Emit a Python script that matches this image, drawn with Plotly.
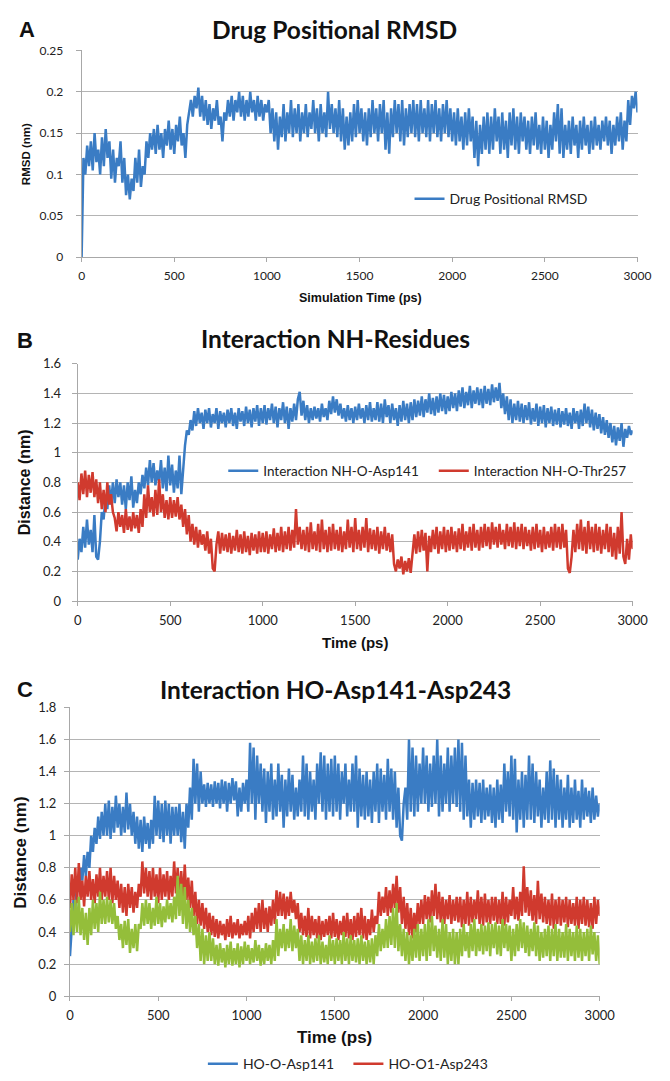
import plotly.graph_objects as go

# sample times (ps), one value every 10 ps
time_ps = list(range(0, 3001, 10))

# Panel A: drug positional RMSD (nm)
drug_rmsd = [
    0.0, 0.12, 0.10, 0.135, 0.11, 0.14, 0.105, 0.15, 0.115, 0.13, 0.10, 0.145, 0.11, 0.155, 0.12, 0.14, 0.095, 0.13, 0.09, 0.12,
    0.11, 0.14, 0.09, 0.12, 0.075, 0.10, 0.07, 0.095, 0.08, 0.12, 0.09, 0.13, 0.085, 0.11, 0.10, 0.14, 0.12, 0.15, 0.13, 0.155,
    0.125, 0.16, 0.13, 0.15, 0.12, 0.155, 0.135, 0.165, 0.13, 0.155, 0.125, 0.16, 0.14, 0.17, 0.135, 0.15, 0.12, 0.16, 0.175, 0.19,
    0.17, 0.195, 0.18, 0.205, 0.17, 0.195, 0.165, 0.19, 0.16, 0.185, 0.155, 0.18, 0.165, 0.19, 0.16, 0.17, 0.14, 0.175, 0.165, 0.19,
    0.17, 0.195, 0.165, 0.19, 0.175, 0.20, 0.17, 0.195, 0.165, 0.19, 0.17, 0.20, 0.175, 0.19, 0.165, 0.195, 0.17, 0.19, 0.165, 0.185,
    0.175, 0.19, 0.15, 0.18, 0.14, 0.175, 0.13, 0.17, 0.145, 0.185, 0.14, 0.175, 0.15, 0.19, 0.145, 0.18, 0.15, 0.185, 0.14, 0.175,
    0.15, 0.185, 0.145, 0.175, 0.155, 0.19, 0.15, 0.18, 0.14, 0.185, 0.15, 0.175, 0.145, 0.20, 0.155, 0.185, 0.15, 0.18, 0.145, 0.19,
    0.14, 0.18, 0.13, 0.17, 0.135, 0.175, 0.14, 0.185, 0.145, 0.19, 0.15, 0.18, 0.14, 0.175, 0.135, 0.18, 0.145, 0.19, 0.15, 0.18,
    0.14, 0.185, 0.15, 0.19, 0.13, 0.175, 0.125, 0.18, 0.145, 0.19, 0.15, 0.185, 0.14, 0.19, 0.135, 0.18, 0.145, 0.185, 0.15, 0.19,
    0.145, 0.185, 0.14, 0.19, 0.15, 0.18, 0.145, 0.19, 0.14, 0.185, 0.15, 0.19, 0.145, 0.18, 0.14, 0.185, 0.15, 0.19, 0.145, 0.18,
    0.14, 0.175, 0.135, 0.18, 0.14, 0.17, 0.13, 0.175, 0.135, 0.18, 0.14, 0.17, 0.12, 0.165, 0.11, 0.16, 0.125, 0.17, 0.13, 0.175,
    0.125, 0.17, 0.13, 0.18, 0.14, 0.17, 0.125, 0.175, 0.13, 0.165, 0.12, 0.175, 0.135, 0.18, 0.13, 0.17, 0.125, 0.175, 0.14, 0.17,
    0.13, 0.165, 0.125, 0.17, 0.135, 0.175, 0.13, 0.16, 0.125, 0.17, 0.13, 0.165, 0.12, 0.16, 0.13, 0.175, 0.14, 0.185, 0.125, 0.18,
    0.12, 0.16, 0.13, 0.165, 0.125, 0.17, 0.135, 0.16, 0.12, 0.165, 0.13, 0.17, 0.135, 0.16, 0.125, 0.165, 0.13, 0.17, 0.135, 0.16,
    0.13, 0.165, 0.14, 0.17, 0.135, 0.165, 0.125, 0.16, 0.135, 0.17, 0.14, 0.175, 0.13, 0.165, 0.14, 0.19, 0.16, 0.195, 0.18, 0.20,
    0.175,
]

# Panel B: NH interaction distances (nm)
nh_o_asp141 = [
    0.28, 0.42, 0.33, 0.50, 0.36, 0.55, 0.38, 0.48, 0.33, 0.58, 0.30, 0.28, 0.40, 0.60, 0.55, 0.70, 0.62, 0.78, 0.65, 0.80,
    0.66, 0.82, 0.70, 0.80, 0.65, 0.78, 0.62, 0.80, 0.68, 0.84, 0.63, 0.75, 0.66, 0.80, 0.72, 0.85, 0.76, 0.90, 0.78, 0.95,
    0.80, 0.93, 0.78, 0.88, 0.80, 0.95, 0.76, 0.90, 0.74, 0.98, 0.78, 0.92, 0.73, 0.88, 0.76, 0.98, 0.72, 0.90, 1.05, 1.15,
    1.12, 1.22, 1.15, 1.28, 1.18, 1.30, 1.20, 1.27, 1.16, 1.29, 1.20, 1.30, 1.17, 1.26, 1.20, 1.30, 1.16, 1.28, 1.20, 1.27,
    1.17, 1.29, 1.20, 1.30, 1.18, 1.27, 1.16, 1.30, 1.21, 1.28, 1.18, 1.31, 1.20, 1.29, 1.17, 1.30, 1.21, 1.32, 1.18, 1.30,
    1.20, 1.32, 1.19, 1.30, 1.22, 1.33, 1.20, 1.31, 1.17, 1.30, 1.22, 1.34, 1.20, 1.31, 1.16, 1.30, 1.21, 1.33, 1.22, 1.36,
    1.41, 1.25, 1.35, 1.22, 1.32, 1.20, 1.30, 1.22, 1.31, 1.23, 1.30, 1.21, 1.33, 1.24, 1.30, 1.22, 1.35, 1.26, 1.38, 1.27,
    1.36, 1.25, 1.33, 1.23, 1.30, 1.21, 1.32, 1.22, 1.30, 1.20, 1.31, 1.22, 1.33, 1.23, 1.30, 1.20, 1.32, 1.22, 1.34, 1.21,
    1.30, 1.22, 1.34, 1.21, 1.33, 1.20, 1.36, 1.24, 1.32, 1.20, 1.33, 1.22, 1.30, 1.18, 1.32, 1.21, 1.35, 1.22, 1.33, 1.20,
    1.34, 1.22, 1.36, 1.24, 1.35, 1.25, 1.38, 1.24, 1.36, 1.27, 1.40, 1.26, 1.37, 1.25, 1.38, 1.27, 1.40, 1.28, 1.39, 1.26,
    1.38, 1.28, 1.41, 1.30, 1.40, 1.28, 1.42, 1.31, 1.44, 1.30, 1.41, 1.32, 1.45, 1.30, 1.42, 1.33, 1.44, 1.32, 1.43, 1.30,
    1.45, 1.33, 1.43, 1.32, 1.46, 1.34, 1.44, 1.35, 1.47, 1.30, 1.40, 1.26, 1.38, 1.22, 1.36, 1.20, 1.33, 1.22, 1.35, 1.21,
    1.33, 1.20, 1.32, 1.22, 1.34, 1.19, 1.30, 1.21, 1.33, 1.18, 1.31, 1.20, 1.32, 1.17, 1.30, 1.20, 1.31, 1.18, 1.29, 1.19,
    1.30, 1.17, 1.28, 1.19, 1.30, 1.18, 1.27, 1.16, 1.30, 1.20, 1.28, 1.16, 1.29, 1.18, 1.33, 1.20, 1.31, 1.17, 1.29, 1.15,
    1.27, 1.16, 1.26, 1.13, 1.24, 1.12, 1.22, 1.10, 1.20, 1.07, 1.18, 1.05, 1.17, 1.08, 1.20, 1.04, 1.16, 1.10, 1.18, 1.12,
    1.15,
]
nh_o_thr257 = [
    0.80, 0.68, 0.86, 0.72, 0.88, 0.70, 0.85, 0.73, 0.87, 0.70, 0.82, 0.66, 0.80, 0.62, 0.75, 0.60, 0.80, 0.65, 0.72, 0.60,
    0.56, 0.47, 0.60, 0.50, 0.58, 0.46, 0.62, 0.48, 0.57, 0.47, 0.60, 0.49, 0.58, 0.46, 0.62, 0.50, 0.72, 0.56, 0.78, 0.60,
    0.70, 0.57, 0.75, 0.58, 0.82, 0.60, 0.72, 0.56, 0.68, 0.55, 0.70, 0.56, 0.68, 0.57, 0.70, 0.55, 0.65, 0.50, 0.62, 0.45,
    0.58, 0.40, 0.52, 0.38, 0.50, 0.36, 0.48, 0.38, 0.45, 0.34, 0.47, 0.32, 0.42, 0.22, 0.20, 0.38, 0.47, 0.32, 0.46, 0.34,
    0.45, 0.33, 0.46, 0.32, 0.44, 0.34, 0.48, 0.33, 0.45, 0.32, 0.47, 0.33, 0.44, 0.31, 0.46, 0.34, 0.45, 0.32, 0.47, 0.33,
    0.46, 0.33, 0.47, 0.32, 0.45, 0.35, 0.49, 0.33, 0.46, 0.34, 0.50, 0.33, 0.47, 0.35, 0.50, 0.34, 0.48, 0.36, 0.62, 0.38,
    0.50, 0.35, 0.48, 0.34, 0.50, 0.33, 0.53, 0.35, 0.47, 0.34, 0.52, 0.33, 0.55, 0.35, 0.48, 0.33, 0.50, 0.34, 0.52, 0.35,
    0.48, 0.34, 0.50, 0.33, 0.47, 0.35, 0.55, 0.36, 0.50, 0.33, 0.56, 0.35, 0.48, 0.34, 0.50, 0.36, 0.56, 0.33, 0.49, 0.35,
    0.48, 0.34, 0.50, 0.32, 0.47, 0.35, 0.50, 0.34, 0.46, 0.33, 0.45, 0.25, 0.20, 0.28, 0.22, 0.30, 0.18, 0.27, 0.20, 0.29,
    0.19, 0.30, 0.45, 0.32, 0.47, 0.33, 0.48, 0.34, 0.46, 0.20, 0.44, 0.33, 0.48, 0.35, 0.50, 0.32, 0.47, 0.35, 0.50, 0.33,
    0.48, 0.34, 0.50, 0.35, 0.47, 0.33, 0.49, 0.35, 0.52, 0.34, 0.47, 0.36, 0.50, 0.34, 0.52, 0.36, 0.48, 0.34, 0.50, 0.36,
    0.52, 0.37, 0.50, 0.35, 0.53, 0.38, 0.50, 0.36, 0.52, 0.38, 0.48, 0.35, 0.52, 0.37, 0.50, 0.36, 0.53, 0.35, 0.50, 0.37,
    0.52, 0.35, 0.50, 0.37, 0.48, 0.34, 0.50, 0.35, 0.52, 0.36, 0.48, 0.33, 0.50, 0.35, 0.47, 0.36, 0.50, 0.34, 0.52, 0.36,
    0.50, 0.35, 0.52, 0.36, 0.48, 0.22, 0.19, 0.30, 0.48, 0.33, 0.52, 0.35, 0.55, 0.34, 0.50, 0.32, 0.54, 0.35, 0.50, 0.33,
    0.52, 0.34, 0.50, 0.32, 0.48, 0.35, 0.52, 0.33, 0.50, 0.30, 0.46, 0.28, 0.50, 0.32, 0.60, 0.30, 0.25, 0.42, 0.28, 0.45,
    0.35,
]

# Panel C: HO interaction distances (nm)
ho_o_asp141 = [
    0.25, 0.45, 0.60, 0.55, 0.70, 0.65, 0.80, 0.72, 0.88, 0.75, 0.90, 0.80, 1.00, 0.90, 1.05, 0.95, 1.12, 0.98, 1.15, 1.00,
    1.20, 1.00, 1.22, 0.98, 1.18, 1.02, 1.25, 1.05, 1.20, 1.00, 1.18, 1.02, 1.27, 1.04, 1.20, 1.00, 1.15, 0.95, 1.12, 0.92,
    1.10, 0.90, 1.12, 0.95, 1.08, 0.92, 1.10, 0.95, 1.25, 1.00, 1.22, 0.98, 1.20, 0.96, 1.22, 1.00, 1.20, 0.95, 1.18, 1.00,
    1.18, 1.00, 1.20, 0.96, 1.15, 0.92, 1.20, 1.05, 1.30, 1.10, 1.48, 1.20, 1.45, 1.15, 1.40, 1.20, 1.32, 1.18, 1.33, 1.20,
    1.32, 1.18, 1.34, 1.20, 1.33, 1.17, 1.35, 1.20, 1.34, 1.15, 1.33, 1.20, 1.36, 1.22, 1.34, 1.12, 1.30, 1.15, 1.33, 1.20,
    1.35, 1.15, 1.58, 1.20, 1.55, 1.10, 1.50, 1.20, 1.45, 1.15, 1.42, 1.08, 1.40, 1.15, 1.45, 1.10, 1.35, 1.12, 1.45, 1.15,
    1.38, 1.05, 1.35, 1.12, 1.42, 1.15, 1.38, 1.10, 1.30, 1.12, 1.35, 1.15, 1.50, 1.12, 1.45, 1.10, 1.40, 1.15, 1.35, 1.10,
    1.45, 1.20, 1.52, 1.15, 1.50, 1.10, 1.45, 1.15, 1.48, 1.12, 1.50, 1.15, 1.45, 1.10, 1.40, 1.20, 1.45, 1.12, 1.35, 1.15,
    1.45, 1.15, 1.50, 1.05, 1.42, 1.12, 1.38, 1.10, 1.40, 1.12, 1.35, 1.08, 1.40, 1.15, 1.45, 1.08, 1.42, 1.15, 1.38, 1.10,
    1.48, 1.15, 1.42, 1.10, 1.40, 1.05, 1.30, 1.00, 0.97, 1.20, 1.30, 1.10, 1.60, 1.15, 1.55, 1.12, 1.50, 1.15, 1.45, 1.20,
    1.55, 1.20, 1.50, 1.15, 1.45, 1.18, 1.50, 1.20, 1.60, 1.12, 1.50, 1.15, 1.45, 1.20, 1.55, 1.15, 1.50, 1.20, 1.55, 1.18,
    1.60, 1.15, 1.58, 1.10, 1.50, 1.12, 1.35, 1.05, 1.33, 1.10, 1.35, 1.12, 1.33, 1.08, 1.35, 1.10, 1.30, 1.12, 1.32, 1.08,
    1.30, 1.05, 1.35, 1.10, 1.32, 1.08, 1.45, 1.15, 1.40, 1.12, 1.50, 1.10, 1.48, 1.02, 1.35, 1.10, 1.40, 1.05, 1.38, 1.10,
    1.50, 1.10, 1.45, 1.08, 1.40, 1.12, 1.35, 1.05, 1.30, 1.10, 1.40, 1.08, 1.47, 1.10, 1.42, 1.05, 1.38, 1.10, 1.35, 1.05,
    1.30, 1.10, 1.38, 1.05, 1.30, 1.08, 1.35, 1.10, 1.28, 1.05, 1.35, 1.10, 1.30, 1.12, 1.28, 1.08, 1.30, 1.10, 1.25, 1.12,
    1.20,
]
ho_o1_asp243 = [
    0.55, 0.76, 0.60, 0.80, 0.58, 0.83, 0.60, 0.72, 0.56, 0.75, 0.62, 0.78, 0.60, 0.73, 0.58, 0.76, 0.62, 0.80, 0.60, 0.75,
    0.62, 0.78, 0.60, 0.80, 0.58, 0.75, 0.60, 0.72, 0.55, 0.70, 0.52, 0.68, 0.50, 0.70, 0.55, 0.68, 0.52, 0.65, 0.55, 0.70,
    0.62, 0.84, 0.64, 0.80, 0.62, 0.78, 0.60, 0.80, 0.62, 0.76, 0.58, 0.80, 0.60, 0.76, 0.62, 0.78, 0.60, 0.75, 0.62, 0.84,
    0.64, 0.80, 0.60, 0.78, 0.58, 0.82, 0.60, 0.74, 0.55, 0.72, 0.50, 0.65, 0.45, 0.60, 0.44, 0.58, 0.42, 0.55, 0.40, 0.52,
    0.38, 0.50, 0.37, 0.48, 0.36, 0.47, 0.38, 0.45, 0.35, 0.48, 0.37, 0.50, 0.36, 0.46, 0.38, 0.48, 0.36, 0.45, 0.38, 0.47,
    0.38, 0.50, 0.36, 0.52, 0.40, 0.55, 0.42, 0.58, 0.40, 0.60, 0.42, 0.55, 0.40, 0.56, 0.44, 0.60, 0.45, 0.66, 0.50, 0.65,
    0.50, 0.64, 0.48, 0.62, 0.50, 0.65, 0.52, 0.60, 0.48, 0.58, 0.40, 0.52, 0.38, 0.50, 0.37, 0.55, 0.36, 0.50, 0.38, 0.48,
    0.36, 0.50, 0.35, 0.47, 0.37, 0.48, 0.38, 0.50, 0.36, 0.52, 0.37, 0.48, 0.35, 0.47, 0.38, 0.50, 0.37, 0.52, 0.36, 0.48,
    0.35, 0.50, 0.37, 0.52, 0.38, 0.55, 0.36, 0.50, 0.35, 0.48, 0.38, 0.54, 0.40, 0.50, 0.45, 0.65, 0.50, 0.62, 0.52, 0.68,
    0.50, 0.66, 0.52, 0.70, 0.55, 0.75, 0.52, 0.68, 0.45, 0.62, 0.42, 0.58, 0.38, 0.55, 0.36, 0.52, 0.40, 0.58, 0.45, 0.60,
    0.45, 0.63, 0.48, 0.62, 0.46, 0.66, 0.50, 0.70, 0.48, 0.65, 0.46, 0.62, 0.45, 0.60, 0.48, 0.63, 0.45, 0.60, 0.47, 0.62,
    0.46, 0.62, 0.43, 0.60, 0.45, 0.65, 0.44, 0.62, 0.46, 0.60, 0.48, 0.66, 0.45, 0.62, 0.44, 0.64, 0.46, 0.60, 0.45, 0.62,
    0.47, 0.62, 0.45, 0.60, 0.45, 0.65, 0.44, 0.62, 0.46, 0.60, 0.50, 0.68, 0.48, 0.62, 0.47, 0.65, 0.50, 0.81, 0.52, 0.68,
    0.50, 0.66, 0.47, 0.63, 0.45, 0.72, 0.48, 0.64, 0.46, 0.62, 0.45, 0.60, 0.44, 0.64, 0.42, 0.60, 0.45, 0.62, 0.44, 0.60,
    0.46, 0.62, 0.43, 0.60, 0.45, 0.58, 0.44, 0.62, 0.42, 0.60, 0.45, 0.62, 0.44, 0.60, 0.43, 0.58, 0.42, 0.62, 0.45, 0.60,
    0.50,
]
ho_o2_asp243 = [
    0.40, 0.58, 0.38, 0.60, 0.40, 0.62, 0.38, 0.55, 0.35, 0.52, 0.32, 0.55, 0.38, 0.60, 0.42, 0.58, 0.40, 0.65, 0.45, 0.60,
    0.45, 0.62, 0.46, 0.60, 0.45, 0.58, 0.42, 0.50, 0.35, 0.45, 0.30, 0.47, 0.32, 0.48, 0.27, 0.42, 0.30, 0.45, 0.28, 0.45,
    0.42, 0.58, 0.44, 0.60, 0.45, 0.58, 0.42, 0.55, 0.44, 0.62, 0.45, 0.58, 0.43, 0.56, 0.46, 0.60, 0.48, 0.58, 0.46, 0.62,
    0.48, 0.75, 0.50, 0.70, 0.45, 0.68, 0.42, 0.60, 0.40, 0.55, 0.38, 0.50, 0.30, 0.45, 0.22, 0.42, 0.20, 0.38, 0.22, 0.40,
    0.22, 0.36, 0.20, 0.32, 0.19, 0.33, 0.21, 0.30, 0.18, 0.32, 0.20, 0.34, 0.19, 0.30, 0.20, 0.33, 0.18, 0.31, 0.20, 0.34,
    0.22, 0.32, 0.20, 0.30, 0.21, 0.35, 0.22, 0.32, 0.19, 0.30, 0.20, 0.33, 0.22, 0.32, 0.20, 0.35, 0.22, 0.48, 0.25, 0.42,
    0.30, 0.45, 0.28, 0.42, 0.30, 0.48, 0.28, 0.44, 0.30, 0.42, 0.22, 0.38, 0.20, 0.35, 0.22, 0.38, 0.20, 0.34, 0.21, 0.36,
    0.22, 0.38, 0.20, 0.34, 0.21, 0.32, 0.20, 0.38, 0.22, 0.35, 0.20, 0.36, 0.22, 0.35, 0.20, 0.40, 0.22, 0.36, 0.20, 0.38,
    0.22, 0.35, 0.21, 0.36, 0.20, 0.38, 0.22, 0.34, 0.20, 0.35, 0.21, 0.36, 0.20, 0.38, 0.25, 0.45, 0.28, 0.42, 0.30, 0.48,
    0.30, 0.50, 0.32, 0.55, 0.30, 0.58, 0.28, 0.45, 0.25, 0.42, 0.22, 0.40, 0.20, 0.38, 0.22, 0.42, 0.24, 0.45, 0.22, 0.42,
    0.25, 0.45, 0.22, 0.48, 0.25, 0.50, 0.28, 0.44, 0.24, 0.42, 0.22, 0.48, 0.24, 0.45, 0.20, 0.40, 0.22, 0.42, 0.20, 0.40,
    0.20, 0.42, 0.25, 0.45, 0.28, 0.40, 0.24, 0.45, 0.28, 0.48, 0.25, 0.42, 0.28, 0.45, 0.26, 0.44, 0.28, 0.46, 0.25, 0.45,
    0.30, 0.46, 0.26, 0.44, 0.25, 0.48, 0.30, 0.45, 0.28, 0.44, 0.22, 0.42, 0.25, 0.45, 0.28, 0.48, 0.30, 0.46, 0.27, 0.44,
    0.25, 0.42, 0.28, 0.46, 0.25, 0.44, 0.22, 0.40, 0.24, 0.42, 0.25, 0.44, 0.22, 0.42, 0.25, 0.45, 0.22, 0.42, 0.24, 0.40,
    0.24, 0.45, 0.22, 0.42, 0.25, 0.40, 0.22, 0.44, 0.24, 0.42, 0.22, 0.40, 0.25, 0.42, 0.22, 0.44, 0.26, 0.40, 0.22, 0.38,
    0.20,
]

BLUE = "rgb(58,124,196)"
RED = "rgb(208,58,46)"
GREEN = "rgb(148,190,58)"
W, H = 670, 1081
LW = 2.5


def px(x, y):
    # pixel position -> paper coords
    return x / W, 1 - y / H


fig = go.Figure()

fig.add_trace(go.Scatter(x=time_ps, y=drug_rmsd, mode="lines", name="Drug Positional RMSD",
                         line=dict(color=BLUE, width=LW), xaxis="x", yaxis="y", legend="legend"))
fig.add_trace(go.Scatter(x=time_ps, y=nh_o_asp141, mode="lines", name="Interaction NH-O-Asp141",
                         line=dict(color=BLUE, width=LW), xaxis="x2", yaxis="y2", legend="legend2"))
fig.add_trace(go.Scatter(x=time_ps, y=nh_o_thr257, mode="lines", name="Interaction NH-O-Thr257",
                         line=dict(color=RED, width=LW), xaxis="x2", yaxis="y2", legend="legend3"))
fig.add_trace(go.Scatter(x=time_ps, y=ho_o_asp141, mode="lines", name="HO-O-Asp141",
                         line=dict(color=BLUE, width=LW), xaxis="x3", yaxis="y3", legend="legend4"))
fig.add_trace(go.Scatter(x=time_ps, y=ho_o1_asp243, mode="lines", name="HO-O1-Asp243",
                         line=dict(color=RED, width=LW), xaxis="x3", yaxis="y3", legend="legend5"))
fig.add_trace(go.Scatter(x=time_ps, y=ho_o2_asp243, mode="lines", name="HO-O2-Asp243",
                         line=dict(color=GREEN, width=LW), xaxis="x3", yaxis="y3", showlegend=False))

TICK_FONT = dict(family="Lato", size=13, color="#222")
GRID = "#b4b4b4"
LINE = "#a8a8a8"


def xax(x0, x1, anchor, size):
    return dict(domain=[x0 / W, x1 / W], anchor=anchor, range=[0, 3000], tick0=0, dtick=500,
                showgrid=False, zeroline=False, showline=True, linecolor=LINE, linewidth=1,
                ticks="outside", ticklen=4, tickcolor=LINE, ticklabelstandoff=3,
                tickfont=dict(TICK_FONT, size=size))


def yax(y0, y1, anchor, rng, dtick, size, standoff):
    return dict(domain=[1 - y1 / H, 1 - y0 / H], anchor=anchor, range=rng, dtick=dtick,
                showgrid=True, gridcolor=GRID, gridwidth=1, zeroline=False,
                showline=True, linecolor=LINE, linewidth=1,
                ticks="outside", ticklen=5, tickcolor=LINE, ticklabelstandoff=standoff,
                tickfont=dict(TICK_FONT, size=size))


fig.update_layout(
    width=W, height=H, margin=dict(l=0, r=0, t=0, b=0),
    paper_bgcolor="white", plot_bgcolor="white",
    xaxis=xax(80, 653, "y", 12),
    yaxis=yax(43, 253, "x", [0, 0.25], 0.05, 12, 10),
    xaxis2=xax(76, 648, "y2", 13),
    yaxis2=yax(361, 602, "x2", [0, 1.6], 0.2, 13, 8),
    xaxis3=xax(68, 614, "y3", 13),
    yaxis3=yax(710, 1003, "x3", [0, 1.8], 0.2, 13, 5),
)

# legends, one per entry, placed like the original
legend_style = dict(bgcolor="rgba(0,0,0,0)", xanchor="left", yanchor="middle",
                    itemwidth=30, borderwidth=0)
for key, (lx, ly, fs) in {"legend": (418, 194, 14), "legend2": (226, 470, 13.5),
                          "legend3": (443, 470, 13.5), "legend4": (205, 1072, 14),
                          "legend5": (355, 1072, 14)}.items():
    x, y = px(lx, ly)
    fig.update_layout({key: dict(legend_style, x=x, y=y,
                                 font=dict(family="Lato", size=fs, color="#222"))})

TITLE_FONT = dict(family="Lato", color="#111", weight="bold")
LETTER_FONT = dict(family="Liberation Sans", size=22, color="#111", weight="bold")
AX_FONT = dict(family="Liberation Sans", color="#111", weight="bold")

notes = [
    ("A", 24, 22, LETTER_FONT, 0),
    ("Drug Positional RMSD", 341, 22, dict(TITLE_FONT, size=24.5), 0),
    ("RMSD (nm)", 22, 148, dict(AX_FONT, size=11.5), -90),
    ("Simulation Time (ps)", 367, 294, dict(AX_FONT, size=12.5), 0),
    ("B", 22, 338, LETTER_FONT, 0),
    ("Interaction NH-Residues", 342, 335, dict(TITLE_FONT, size=24.5), 0),
    ("Distance (nm)", 22, 481, dict(AX_FONT, size=16), -90),
    ("Time (ps)", 362, 644, dict(AX_FONT, size=15), 0),
    ("C", 22, 692, LETTER_FONT, 0),
    ("Interaction HO-Asp141-Asp243", 342, 692, dict(TITLE_FONT, size=24.5), 0),
    ("Distance (nm)", 17, 857, dict(AX_FONT, size=17), -90),
    ("Time (ps)", 341, 1045, dict(AX_FONT, size=17), 0),
]
for text, x, y, font, angle in notes:
    ax_, ay_ = px(x, y)
    fig.add_annotation(text=text, x=ax_, y=ay_, xref="paper", yref="paper", showarrow=False,
                       xanchor="center", yanchor="middle", font=font, textangle=angle)

# drop the default page margin so the figure sits at the window's top-left corner
fig.write_html("out.html", config={"displayModeBar": False},
               post_script="document.body.style.margin='0';document.body.style.overflow='hidden';")
